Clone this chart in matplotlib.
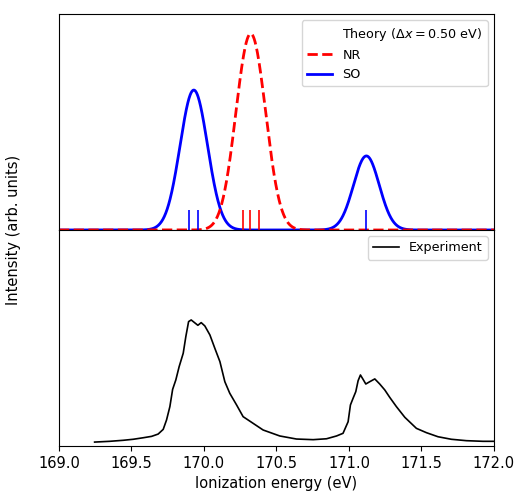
import numpy as np
import matplotlib.pyplot as plt

# stick positions (eV)
so_sticks = [169.90, 169.96, 171.12]
nr_sticks = [170.27, 170.32, 170.38]
sigma = 0.089  # gaussian width of the broadening

# experiment trace
exp_x = [169.246, 169.35, 169.443, 169.512, 169.581, 169.639, 169.684, 169.719,
         169.742, 169.765, 169.784, 169.806, 169.829, 169.857, 169.875, 169.894,
         169.912, 169.935, 169.958, 169.981, 170.006, 170.041, 170.075, 170.11,
         170.144, 170.178, 170.225, 170.27, 170.408, 170.523, 170.638, 170.753,
         170.845, 170.914, 170.959, 170.994, 171.01, 171.028, 171.047, 171.063,
         171.079, 171.097, 171.116, 171.143, 171.178, 171.212, 171.247, 171.281,
         171.327, 171.385, 171.465, 171.534, 171.614, 171.706, 171.81, 171.924, 172.0]
exp_y = [0.031, 0.037, 0.045, 0.053, 0.065, 0.076, 0.094, 0.131,
         0.205, 0.31, 0.446, 0.52, 0.625, 0.73, 0.861, 0.979,
         0.992, 0.971, 0.95, 0.971, 0.945, 0.874, 0.769, 0.664,
         0.506, 0.415, 0.323, 0.231, 0.126, 0.079, 0.055, 0.05,
         0.057, 0.079, 0.1, 0.191, 0.323, 0.375, 0.428, 0.514,
         0.559, 0.525, 0.488, 0.506, 0.528, 0.488, 0.441, 0.383,
         0.31, 0.226, 0.139, 0.105, 0.073, 0.053, 0.042, 0.037, 0.037]

# broaden the sticks
x = np.linspace(169, 172, 1500)
def broaden(sticks):
    return sum(np.exp(-(x - s)**2 / (2 * sigma**2)) for s in sticks)
so = broaden(so_sticks)
nr = broaden(nr_sticks)
norm = max(so.max(), nr.max())
so = so / norm
nr = nr / norm

fig = plt.figure(figsize=(5.17, 4.93), dpi=100)
ax1 = fig.add_axes([0.114, 0.5335, 0.8415, 0.4381])
ax2 = fig.add_axes([0.114, 0.0953, 0.8415, 0.4382], sharex=ax1)

l_so, = ax1.plot(x, so, color='blue', lw=2, label='SO')
l_nr, = ax1.plot(x, nr, color='red', lw=2, ls='--', label='NR')
ax1.vlines(so_sticks, 0, 0.1, color='blue', lw=1.2)
ax1.vlines(nr_sticks, 0, 0.1, color='red', lw=1.2)
l_th, = ax1.plot([], [], color='none', label=r'Theory ($\Delta x = 0.50$ eV)')
ax1.legend(handles=[l_th, l_nr, l_so], loc='upper right', fontsize=9.2)
ax1.set_ylim(0, 1.1)
ax1.set_yticks([])
ax1.tick_params(axis='x', bottom=False, labelbottom=False)

ax2.plot(exp_x, exp_y, color='black', lw=1.2, label='Experiment')
ax2.legend(loc='upper right', fontsize=9.2)
ax2.set_ylim(0, 1.7)
ax2.set_yticks([])
ax2.set_xlim(169, 172)
ax2.set_xticks(np.arange(169, 172.01, 0.5))
ax2.tick_params(axis='x', labelsize=10.5)
ax2.set_xlabel('Ionization energy (eV)', fontsize=10.5)

fig.text(0.027, 0.533, 'Intensity (arb. units)', rotation=90, va='center', ha='center', fontsize=10.5)

plt.savefig('out.png', dpi=100)
